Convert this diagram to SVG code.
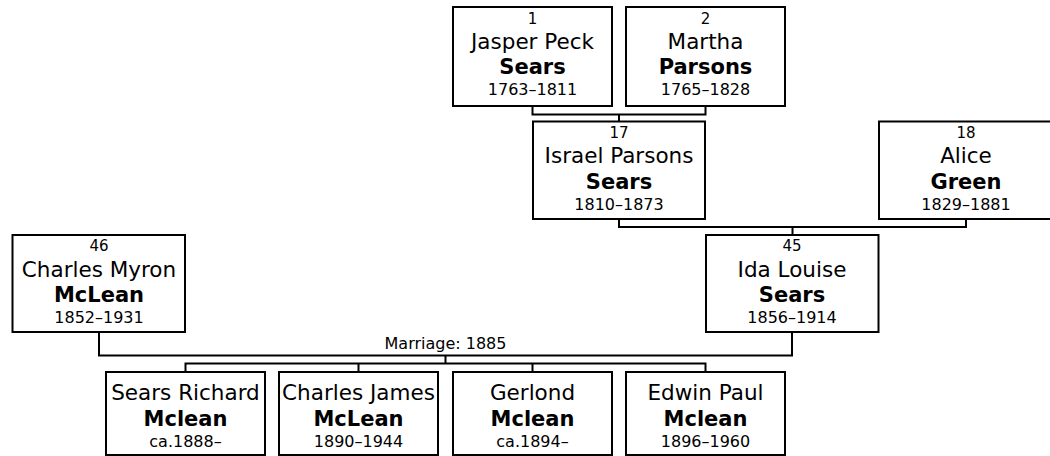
<svg xmlns="http://www.w3.org/2000/svg" width="1050" height="456" viewBox="0 0 1050 456">
<style>
.box{fill:#fff;stroke:#000;stroke-width:2}
.ln{fill:none;stroke:#000;stroke-width:2}
text{font-family:"DejaVu Sans","Liberation Sans",sans-serif;fill:#000;text-anchor:middle}
.n{font-size:15px}
.nm{font-size:21.5px}
.sn{font-size:21px;font-weight:bold}
.d{font-size:16px}
.m{font-size:16px}
</style>
<rect width="1050" height="456" fill="#fff"/>
<g id="connectors">
<path class="ln" d="M532.5 106 V114.5 H705.5 V106 M619 114.5 V121.5"/>
<path class="ln" d="M619 219 V227 H966 V219 M792.5 227 V236"/>
<path class="ln" d="M99 332 V355.5 H792 V332 M445.5 355.5 V363.5"/>
<path class="ln" d="M185.5 372 V363.5 H705.5 V372 M358.5 363.5 V372 M532.5 363.5 V372"/>
<text class="m" x="445.5" y="349">Marriage: 1885</text>
</g>
<g id="p1">
<rect class="box" x="453" y="7" width="159" height="99"/>
<text class="n" x="532.5" y="23.5">1</text>
<text class="nm" x="532.5" y="48.5">Jasper Peck</text>
<text class="sn" x="532.5" y="73.5">Sears</text>
<text class="d" x="532.5" y="94.5">1763–1811</text>
</g>
<g id="p2">
<rect class="box" x="626" y="7" width="159" height="99"/>
<text class="n" x="705.5" y="23.5">2</text>
<text class="nm" x="705.5" y="48.5">Martha</text>
<text class="sn" x="705.5" y="73.5">Parsons</text>
<text class="d" x="705.5" y="94.5">1765–1828</text>
</g>
<g id="p17">
<rect class="box" x="533" y="121.5" width="172" height="97.5"/>
<text class="n" x="619" y="137.5">17</text>
<text class="nm" x="619" y="163">Israel Parsons</text>
<text class="sn" x="619" y="188.5">Sears</text>
<text class="d" x="619" y="210">1810–1873</text>
</g>
<g id="p18">
<rect class="box" x="879" y="121.5" width="174" height="97.5"/>
<text class="n" x="966" y="137.5">18</text>
<text class="nm" x="966" y="163">Alice</text>
<text class="sn" x="966" y="188.5">Green</text>
<text class="d" x="966" y="210">1829–1881</text>
</g>
<g id="p46">
<rect class="box" x="12.5" y="235" width="172.5" height="97"/>
<text class="n" x="99" y="251">46</text>
<text class="nm" x="99" y="276.5">Charles Myron</text>
<text class="sn" x="99" y="301.5">McLean</text>
<text class="d" x="99" y="323">1852–1931</text>
</g>
<g id="p45">
<rect class="box" x="706" y="235" width="172.5" height="97"/>
<text class="n" x="792" y="251">45</text>
<text class="nm" x="792" y="276.5">Ida Louise</text>
<text class="sn" x="792" y="301.5">Sears</text>
<text class="d" x="792" y="323">1856–1914</text>
</g>
<g id="c1">
<rect class="box" x="106" y="372" width="159" height="83"/>
<text class="nm" x="185.5" y="400">Sears Richard</text>
<text class="sn" x="185.5" y="425.5">Mclean</text>
<text class="d" x="185.5" y="447">ca.1888–</text>
</g>
<g id="c2">
<rect class="box" x="279" y="372" width="159" height="83"/>
<text class="nm" x="358.5" y="400">Charles James</text>
<text class="sn" x="358.5" y="425.5">McLean</text>
<text class="d" x="358.5" y="447">1890–1944</text>
</g>
<g id="c3">
<rect class="box" x="453" y="372" width="159" height="83"/>
<text class="nm" x="532.5" y="400">Gerlond</text>
<text class="sn" x="532.5" y="425.5">Mclean</text>
<text class="d" x="532.5" y="447">ca.1894–</text>
</g>
<g id="c4">
<rect class="box" x="626" y="372" width="159" height="83"/>
<text class="nm" x="705.5" y="400">Edwin Paul</text>
<text class="sn" x="705.5" y="425.5">Mclean</text>
<text class="d" x="705.5" y="447">1896–1960</text>
</g>
</svg>
